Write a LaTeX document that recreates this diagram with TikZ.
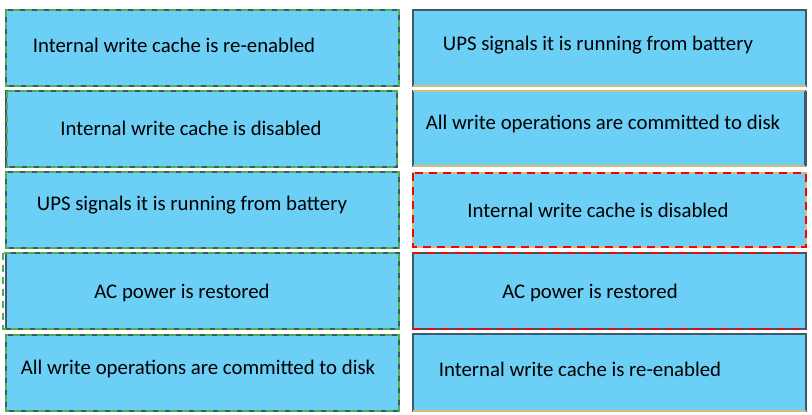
\documentclass[tikz,border=0pt]{standalone}
\usepackage{fontspec}
\setmainfont{Carlito}
\definecolor{boxfill}{HTML}{6CCFF6}
\definecolor{boxedge}{HTML}{41586A}
\definecolor{greendash}{HTML}{4CAF50}
\definecolor{tanedge}{HTML}{CDBE7E}
\begin{document}
\begin{tikzpicture}[x=1pt,y=-1pt,
  card/.style={fill=boxfill,draw=boxedge,line width=1.6pt},
  gdash/.style={draw=greendash,line width=2.2pt,dash pattern=on 7pt off 5pt},
  rdash/.style={draw=red,line width=2.2pt,dash pattern=on 8pt off 6pt},
  tan/.style={draw=tanedge,line width=1.8pt},
  lbl/.style={font=\fontsize{20.8}{24}\selectfont,text=black,inner sep=0pt}]
\useasboundingbox (0,0) rectangle (812,415);
% left column
\draw[card] (6,10) rectangle (399,86);
\draw[gdash] (6,10) rectangle (399,86);
\draw[card] (6,91) rectangle (397,167);
\draw[gdash] (7,91) rectangle (397,167);
\draw[card] (6,172) rectangle (399,248);
\draw[gdash] (6,172) rectangle (399,248);
\draw[card] (6,253) rectangle (399,329);
\draw[gdash] (3,253) rectangle (399,329);
\draw[card] (6,335) rectangle (399,411);
\draw[gdash] (6,335) rectangle (399,411);
% right column
\draw[card] (413,10) rectangle (806,86);
\draw[tan] (413,86) -- (806,86);
\draw[card] (413,91) rectangle (805,166);
\draw[tan] (413,91) -- (805,91);
\draw[tan] (413,166) -- (805,166);
\draw[boxedge,line width=2.4pt] (806,91) -- (806,166);
\draw[card,draw=tanedge] (413,173) rectangle (806,247);
\draw[rdash] (413,173) rectangle (806,247);
\draw[card] (413,253) rectangle (806,329);
\draw[rdash] (413,253) -- (806,253);
\draw[rdash] (413,329) -- (806,329);
\draw[card] (413,334) rectangle (806,411);
\draw[tan] (413,411) -- (806,411);
% labels
\node[lbl] (l1) at (174,45) {Internal write cache is re-enabled};
\node[lbl] (l2) at (191,128) {Internal write cache is disabled};
\node[lbl] (l3) at (192,205) {UPS signals it is running from battery};
\node[lbl] (l4) at (182,293) {AC power is restored};
\node[lbl] (l5) at (198,369) {All write operations are committed to disk};
\node[lbl] (r1) at (598,45) {UPS signals it is running from battery};
\node[lbl] (r2) at (603,124) {All write operations are committed to disk};
\node[lbl] (r3) at (598,210) {Internal write cache is disabled};
\node[lbl] (r4) at (590,293) {AC power is restored};
\node[lbl] (r5) at (580,369) {Internal write cache is re-enabled};
\end{tikzpicture}
\end{document}
